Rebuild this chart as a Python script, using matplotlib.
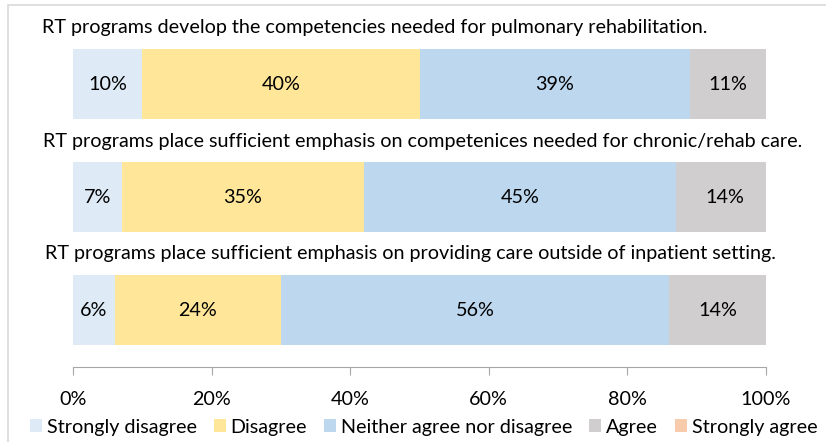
import numpy as np
import matplotlib.pyplot as plt
from matplotlib.patches import Rectangle, Patch

plt.rcParams['font.family'] = ['Lato', 'DejaVu Sans']

questions = [
    "RT programs develop the competencies needed for pulmonary rehabilitation.",
    "RT programs place sufficient emphasis on competenices needed for chronic/rehab care.",
    "RT programs place sufficient emphasis on providing care outside of inpatient setting.",
]
categories = ["Strongly disagree", "Disagree", "Neither agree nor disagree", "Agree", "Strongly agree"]
strongly_disagree = [10, 7, 6]
disagree = [40, 35, 24]
neither = [39, 45, 56]
agree = [11, 14, 14]
strongly_agree = [0, 0, 0]
colors = ["#DEEBF7", "#FFE699", "#BDD7EE", "#D0CECE", "#F8CBAD"]

FS = 14.2
W, H = 826, 442
fig = plt.figure(figsize=(W / 100, H / 100), dpi=100)
# axes box in pixels: x 73..766, y 16..367
ax = fig.add_axes([73 / W, 1 - 367 / H, (766 - 73) / W, (367 - 16) / H])

series = [strongly_disagree, disagree, neither, agree, strongly_agree]
ypos = np.arange(len(questions))
left = np.zeros(len(questions))
for vals, col in zip(series, colors):
    vals = np.array(vals, dtype=float)
    ax.barh(ypos, vals, left=left, height=0.62, color=col)
    for y, l, v in zip(ypos, left, vals):
        if v > 0:
            ax.text(l + v / 2, y, f"{int(v)}%", ha='center', va='center', fontsize=FS)
    left += vals

ax.set_xlim(0, 100)
ax.set_ylim(2.504, -0.602)
ax.set_xticks(np.arange(0, 101, 20))
ax.set_xticklabels([f"{t}%" for t in range(0, 101, 20)], fontsize=FS)
ax.set_yticks([])
for s in ['top', 'right', 'left']:
    ax.spines[s].set_visible(False)
ax.spines['bottom'].set_color('#A6A6A6')
ax.tick_params(axis='x', direction='out', length=6, color='#A6A6A6', pad=11)

# question titles (placed above each bar)
title_x = [375, 423, 410]
title_y = [28, 142, 254]
for q, tx, ty in zip(questions, title_x, title_y):
    fig.text(tx / W, 1 - ty / H, q, ha='center', va='center', fontsize=FS)

handles = [Patch(facecolor=c, edgecolor='none') for c in colors]
fig.legend(handles, categories, loc='center', bbox_to_anchor=(0.513, 1 - 427 / H), ncol=5,
           frameon=False, fontsize=FS, handlelength=0.62, handleheight=0.62,
           handletextpad=0.25, columnspacing=0.85, borderpad=0)

# chart area frame
fig.patches.append(Rectangle((8 / W, -0.1), 1.2, 1.1 - 5 / H, transform=fig.transFigure,
                             fill=False, edgecolor='#D9D9D9', linewidth=1.2))

fig.savefig("out.png", dpi=100)
